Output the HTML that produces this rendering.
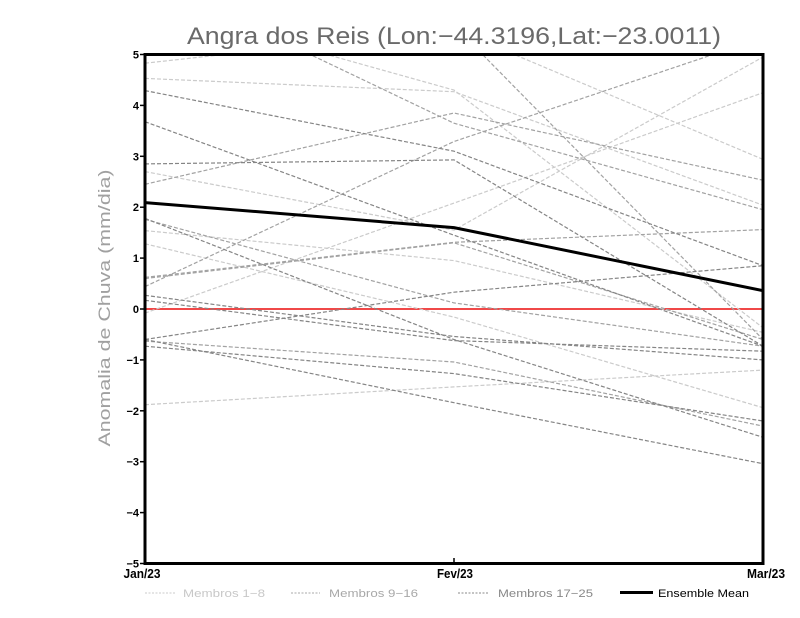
<!DOCTYPE html>
<html><head><meta charset="utf-8"><style>
html,body{margin:0;padding:0;background:#fff;}
svg{display:block;}
text{font-family:"Liberation Sans",sans-serif;}
</style></head><body>
<svg width="800" height="618" viewBox="0 0 800 618" xmlns="http://www.w3.org/2000/svg">
<defs><clipPath id="pc"><rect x="145" y="54.5" width="618" height="509"/></clipPath></defs>
<rect width="800" height="618" fill="#fff"/>
<text x="454" y="44" font-size="24" fill="#6a6a6a" text-anchor="middle" textLength="534" lengthAdjust="spacingAndGlyphs">Angra dos Reis (Lon:−44.3196,Lat:−23.0011)</text>
<text transform="translate(110,308) rotate(-90)" font-size="17" fill="#a0a0a0" text-anchor="middle" textLength="277" lengthAdjust="spacingAndGlyphs">Anomalia de Chuva (mm/dia)</text>
<line x1="145" y1="309" x2="763" y2="309" stroke="#f04848" stroke-width="2"/>
<g clip-path="url(#pc)" fill="none" stroke-width="1.2" stroke-dasharray="4 2">
<g stroke="#cbcbcb">
<polyline points="145,63.2 454,29.1 763,159.4"/>
<polyline points="145,78.4 454,91.7 763,205.2"/>
<polyline points="145,3.6 454,90.1 763,327.8"/>
<polyline points="145,171.6 454,230.1 763,57"/>
<polyline points="145,230.6 454,260.6 763,332.4"/>
<polyline points="145,243.8 454,317.1 763,407.7"/>
<polyline points="145,313.1 454,203.1 763,92.7"/>
<polyline points="145,404.7 454,386.9 763,370.1"/>
</g>
<g stroke="#a2a2a2">
<polyline points="145,286.6 454,141.5 763,37.7"/>
<polyline points="145,184.3 454,113 763,180.2"/>
<polyline points="145,-24.4 454,123.2 763,209.7"/>
<polyline points="145,277.4 454,242.3 763,229.6"/>
<polyline points="145,-21.9 454,25.5 763,339.5"/>
<polyline points="145,219.4 454,302.9 763,346.2"/>
<polyline points="145,341.1 454,362 763,426.1"/>
<polyline points="145,278.5 454,242.8 763,339.5"/>
</g>
<g stroke="#858585">
<polyline points="145,90.6 454,151.2 763,265.7"/>
<polyline points="145,339.5 454,292.2 763,265.7"/>
<polyline points="145,163.9 454,159.9 763,346.2"/>
<polyline points="145,121.7 454,235.2 763,346.2"/>
<polyline points="145,218.4 454,339.5 763,437.3"/>
<polyline points="145,295.3 454,336.5 763,359.9"/>
<polyline points="145,300.3 454,340.6 763,351.2"/>
<polyline points="145,339.5 454,402.7 763,463.7"/>
<polyline points="145,346.2 454,373.6 763,421"/>
</g>
</g>
<polyline clip-path="url(#pc)" points="145,202.6 454,227.6 763,290.7" fill="none" stroke="#000" stroke-width="3"/>
<rect x="145" y="54.5" width="618" height="509" fill="none" stroke="#000" stroke-width="3"/>
<g stroke="#000" stroke-width="1.5">
<line x1="140" y1="54.5" x2="145" y2="54.5"/>
<line x1="140" y1="105.4" x2="145" y2="105.4"/>
<line x1="140" y1="156.3" x2="145" y2="156.3"/>
<line x1="140" y1="207.2" x2="145" y2="207.2"/>
<line x1="140" y1="258.1" x2="145" y2="258.1"/>
<line x1="140" y1="309" x2="145" y2="309"/>
<line x1="140" y1="359.9" x2="145" y2="359.9"/>
<line x1="140" y1="410.8" x2="145" y2="410.8"/>
<line x1="140" y1="461.7" x2="145" y2="461.7"/>
<line x1="140" y1="512.6" x2="145" y2="512.6"/>
<line x1="140" y1="563.5" x2="145" y2="563.5"/>
<line x1="454" y1="558" x2="454" y2="563.5"/>
</g>
<g font-size="11" font-weight="bold" fill="#000" text-anchor="end">
<text x="139" y="58.5">5</text>
<text x="139" y="109.4">4</text>
<text x="139" y="160.3">3</text>
<text x="139" y="211.2">2</text>
<text x="139" y="262.1">1</text>
<text x="139" y="313">0</text>
<text x="139" y="363.9">−1</text>
<text x="139" y="414.8">−2</text>
<text x="139" y="465.7">−3</text>
<text x="139" y="516.6">−4</text>
<text x="139" y="567.5">−5</text>
</g>
<g font-size="13" font-weight="bold" fill="#000" text-anchor="middle">
<text x="142" y="578" textLength="37" lengthAdjust="spacingAndGlyphs">Jan/23</text>
<text x="455" y="578" textLength="36" lengthAdjust="spacingAndGlyphs">Fev/23</text>
<text x="766" y="578" textLength="38" lengthAdjust="spacingAndGlyphs">Mar/23</text>
</g>
<g stroke-width="1" stroke-dasharray="2 1.5">
<line x1="145" y1="593" x2="175" y2="593" stroke="#cbcbcb"/>
<line x1="291" y1="593" x2="320" y2="593" stroke="#a8a8a8"/>
<line x1="458" y1="593" x2="488" y2="593" stroke="#8a8a8a"/>
</g>
<line x1="620" y1="592.5" x2="653" y2="592.5" stroke="#000" stroke-width="3"/>
<g font-size="11">
<text x="183" y="597" fill="#c8c8c8" textLength="82" lengthAdjust="spacingAndGlyphs">Membros 1−8</text>
<text x="329" y="597" fill="#a8a8a8" textLength="89" lengthAdjust="spacingAndGlyphs">Membros 9−16</text>
<text x="498" y="597" fill="#888" textLength="95" lengthAdjust="spacingAndGlyphs">Membros 17−25</text>
<text x="658" y="597" fill="#000" textLength="91" lengthAdjust="spacingAndGlyphs">Ensemble Mean</text>
</g>
</svg>
</body></html>
